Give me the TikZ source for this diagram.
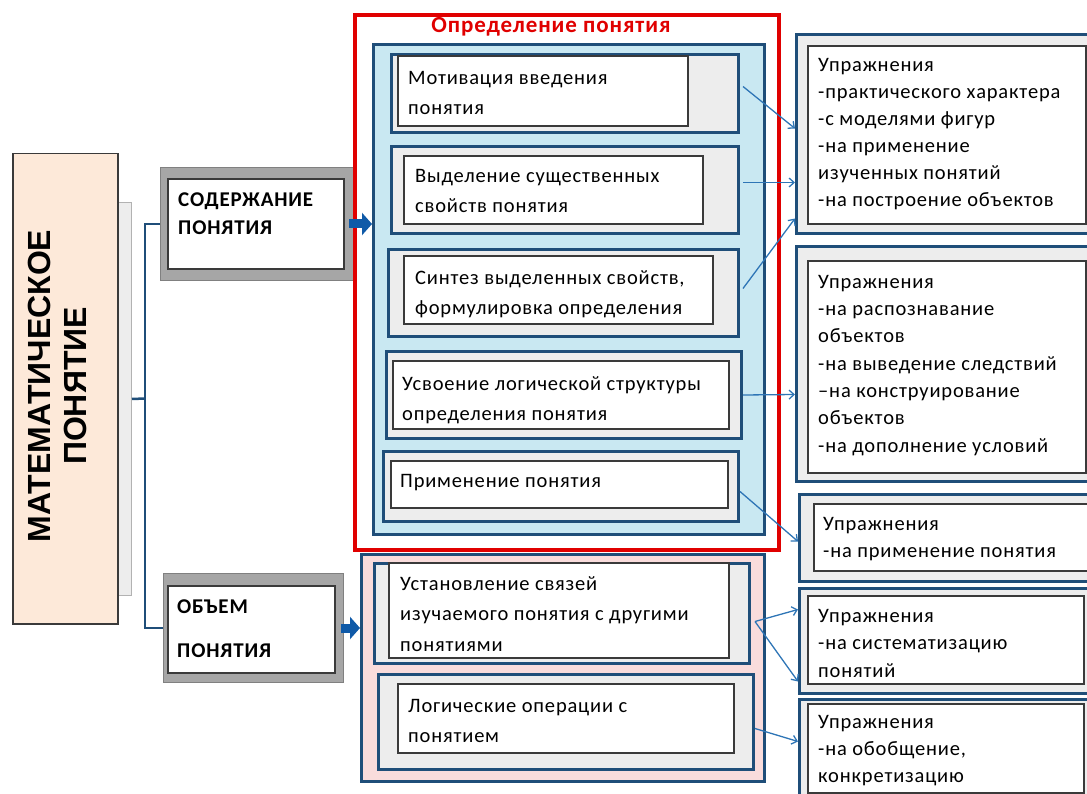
\documentclass[tikz,border=0pt]{standalone}
\usepackage{fontspec}
\setmainfont{Carlito}[LetterSpace=4]
\newfontfamily\arialfont{Liberation Sans}
\usetikzlibrary{arrows.meta}
\definecolor{dblue}{HTML}{1F4E79}
\definecolor{lblue}{HTML}{C9E8F2}
\definecolor{pinkf}{HTML}{F9DCDC}
\definecolor{grayf}{HTML}{EDEDED}
\definecolor{peach}{HTML}{FDE9D9}
\definecolor{ablue}{HTML}{2E75B6}
\definecolor{redb}{HTML}{E00000}
\definecolor{frameg}{HTML}{A6A6A6}
\definecolor{dgray}{HTML}{3A3A3A}
\definecolor{barrow}{HTML}{0F5AA8}
\newcommand{\mkbox}[6]{\node[#1, anchor=north west, inner sep=0pt, minimum width={(#5-#3)*1pt}, minimum height={(#6-#4)*1pt}] (#2) at (#3,#4) {};}
\tikzset{
  outerbox/.style={draw=dblue, line width=3pt, fill=grayf},
  innerbox/.style={draw=dgray, line width=1.8pt, fill=white},
  txt/.style={anchor=base west, align=left, inner sep=0pt, font=\fontsize{20.5}{30}\selectfont},
  rtxt/.style={anchor=base west, align=left, inner sep=0pt, font=\fontsize{20.5}{27.2}\selectfont},
  conn/.style={draw=ablue, line width=1.3pt, -{Straight Barb[length=5pt,width=9pt]}},
  tree/.style={draw=dblue, line width=2.5pt},
  blockarrow/.style={draw=barrow, line width=9pt, -{Triangle[length=10pt,width=22pt]}}
}
\begin{document}
\begin{tikzpicture}[x=1pt,y=-1pt]
\useasboundingbox (0,0) rectangle (1087,794);
\clip (0,0) rectangle (1087,794);
% left main
\mkbox{draw=gray!60, fill=grayf, line width=1pt}{strip}{100}{202}{131}{595}
\mkbox{draw=dgray, fill=peach, line width=1.5pt}{M}{12}{153}{117}{623}
\node[rotate=90, align=center, inner sep=0pt, font=\arialfont\bfseries\fontsize{32}{36}\selectfont] (mtxt) at (57.5,386) {МАТЕМАТИЧЕСКОЕ\\ПОНЯТИЕ};
% content / volume boxes
\mkbox{fill=frameg, draw=gray, line width=1pt}{C}{160}{167}{353}{280}
\mkbox{innerbox}{Ci}{167}{178}{343}{268}
\node[txt, font=\bfseries\fontsize{21}{28}\selectfont] (ctxt) at (178,235) {СОДЕРЖАНИЕ\\ПОНЯТИЯ};
\mkbox{fill=frameg, draw=gray, line width=1pt}{V}{163}{573}{343}{682}
\mkbox{innerbox}{Vi}{167}{585}{334}{672}
\node[txt, font=\bfseries\fontsize{21}{44}\selectfont] (vtxt) at (177,657) {ОБЪЕМ\\ПОНЯТИЯ};
% tree connectors
\coordinate (j) at (145,398.5);
\draw[tree] (strip.east) -- (j);
\draw[tree] (C.west) -| (j) |- (V.west);
% red definition box
\mkbox{draw=redb, line width=4pt}{R}{353}{13}{777}{548}
\node[anchor=base, inner sep=0pt, text=redb, font=\bfseries\fontsize{23}{26}\selectfont] (rtitle) at (551,33) {Определение понятия};
\mkbox{draw=dblue, line width=3pt, fill=lblue}{L}{372}{43}{763}{533}
% inner boxes
\mkbox{outerbox}{b1}{390}{53}{737}{131}
\mkbox{innerbox}{b1i}{397}{55}{687}{125}
\node[txt] (t1) at (408,115) {Мотивация введения\\понятия};
\mkbox{outerbox}{b2}{390}{145}{737}{232}
\mkbox{innerbox}{b2i}{403}{155}{702}{223}
\node[txt] (t2) at (415,213) {Выделение существенных\\свойств понятия};
\mkbox{outerbox}{b3}{387}{248}{737}{335}
\mkbox{innerbox}{b3i}{403}{255}{712}{323}
\node[txt] (t3) at (415,315) {Синтез выделенных свойств,\\формулировка определения};
\mkbox{outerbox}{b4}{385}{350}{740}{437}
\mkbox{innerbox}{b4i}{392}{360}{728}{428}
\node[txt] (t4) at (402,420) {Усвоение логической  структуры\\определения понятия};
\mkbox{outerbox}{b5}{382}{450}{737}{520}
\mkbox{innerbox}{b5i}{390}{460}{727}{507}
\node[txt] (t5) at (400,487) {Применение понятия};
% pink volume box
\mkbox{draw=dblue, line width=3pt, fill=pinkf}{P}{360}{553}{763}{780}
\mkbox{outerbox}{b6}{373}{562}{748}{662}
\mkbox{innerbox}{b6i}{388}{562}{728}{657}
\node[txt, font=\fontsize{20.5}{30.5}\selectfont] (t6) at (400,651) {Установление связей\\изучаемого понятия с другими\\понятиями};
\mkbox{outerbox}{b7}{377}{673}{752}{768}
\mkbox{innerbox}{b7i}{397}{683}{733}{752}
\node[txt] (t7) at (408,742) {Логические операции с\\понятием};
% right boxes
\mkbox{outerbox}{A}{795}{33}{1100}{232}
\mkbox{innerbox}{Ai}{807}{45}{1085}{223}
\node[rtxt, font=\fontsize{20.5}{27}\selectfont] (tA) at (818,207) {Упражнения\\-практического характера\\-с моделями фигур\\-на применение\\изученных понятий\\-на построение объектов};
\mkbox{outerbox}{B}{795}{245}{1100}{480}
\mkbox{innerbox}{Bi}{807}{260}{1085}{472}
\node[rtxt, font=\fontsize{20.5}{27.33}\selectfont] (tB) at (818,452) {Упражнения\\-на распознавание\\объектов\\-на выведение следствий\\–на конструирование\\объектов\\-на дополнение условий};
\mkbox{outerbox}{Cx}{798}{493}{1100}{580}
\mkbox{innerbox}{Cxi}{813}{503}{1100}{570}
\node[rtxt, font=\fontsize{20.5}{27}\selectfont] (tC) at (823,557) {Упражнения\\-на применение понятия};
\mkbox{outerbox}{D}{798}{587}{1100}{692}
\mkbox{innerbox}{Di}{807}{595}{1083}{683}
\node[rtxt, font=\fontsize{20.5}{27.5}\selectfont] (tD) at (818,677) {Упражнения\\-на систематизацию\\понятий};
\mkbox{outerbox}{E}{798}{698}{1100}{810}
\mkbox{innerbox}{Ei}{807}{703}{1083}{792}
\node[rtxt, font=\fontsize{20.5}{27}\selectfont] (tE) at (818,782) {Упражнения\\-на обобщение,\\конкретизацию};
% block arrows
\draw[blockarrow] ([xshift=-5pt]C.east) -- (L.west |- C.east);
\draw[blockarrow] ([xshift=-3pt]V.east) -- (P.west |- V.east);
% thin connectors
\draw[conn] ([shift={(3,-7)}]b1.east) -- ([shift={(0,-5.5)}]A.west);
\draw[conn] ([shift={(3,-7.5)}]b2.east) -- ([shift={(0,48.5)}]A.west);
\draw[conn] ([shift={(3,-4.5)}]b3.east) -- ([shift={(0,84.5)}]A.west);
\draw[conn] (b4.east) -- ([shift={(0,30.5)}]B.west);
\draw[conn] ([shift={(0,5)}]b5.east) -- ([shift={(0,3.5)}]Cx.west);
\draw[conn] ([shift={(4,8)}]b6.east) -- ([shift={(0,-31.5)}]D.west);
\draw[conn] ([shift={(4,8)}]b6.east) -- ([shift={(0,40.5)}]D.west);
\draw[conn] ([shift={(0,6.5)}]b7.east) -- ([shift={(0,-14)}]E.west);
\end{tikzpicture}
\end{document}
